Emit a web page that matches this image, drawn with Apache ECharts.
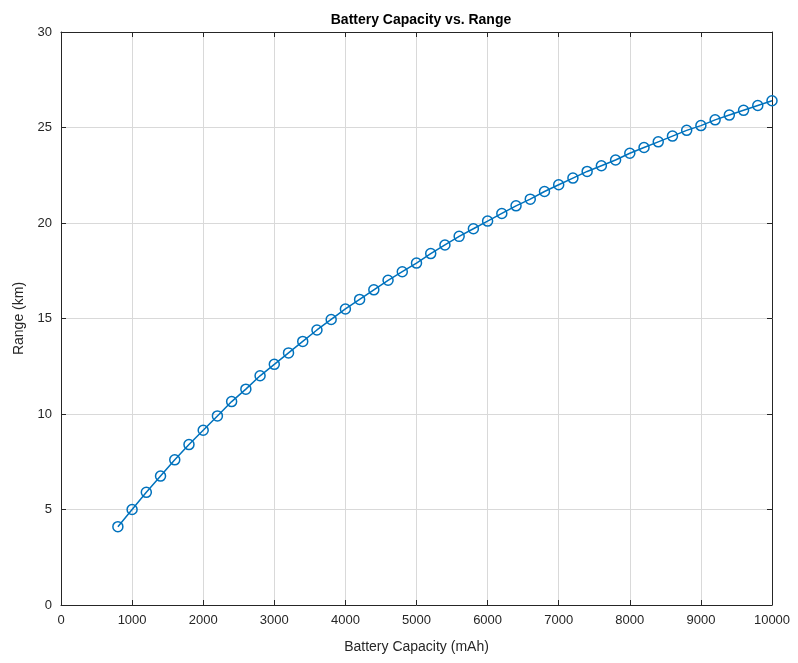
<!DOCTYPE html>
<html>
<head>
<meta charset="utf8"></meta>
<script src="https://cdn.jsdelivr.net/npm/echarts@6/dist/echarts.min.js"></script>
<style>
    html, body { margin: 0; padding: 0; background: #fff; }
    #main { width: 798px; height: 663px; }
</style>
</head>
<body>
<div id="main"></div>
<script type="text/javascript">
    // battery capacity (mAh)
    var capacity = [800, 1000, 1200, 1400, 1600, 1800, 2000, 2200, 2400, 2600,
        2800, 3000, 3200, 3400, 3600, 3800, 4000, 4200, 4400, 4600,
        4800, 5000, 5200, 5400, 5600, 5800, 6000, 6200, 6400, 6600,
        6800, 7000, 7200, 7400, 7600, 7800, 8000, 8200, 8400, 8600,
        8800, 9000, 9200, 9400, 9600, 9800, 10000];
    // range (km)
    var range = [4.1, 5.0, 5.9, 6.75, 7.6, 8.4, 9.15, 9.9, 10.65, 11.3,
        12.0, 12.6, 13.2, 13.8, 14.4, 14.95, 15.5, 16.0, 16.5, 17.0,
        17.45, 17.9, 18.4, 18.85, 19.3, 19.7, 20.1, 20.5, 20.9, 21.25,
        21.65, 22.0, 22.35, 22.7, 23.0, 23.3, 23.65, 23.95, 24.25, 24.55,
        24.85, 25.1, 25.4, 25.65, 25.9, 26.15, 26.4];

    var font = 'Liberation Sans, Arial, Helvetica, sans-serif';
    var axisCol = '#262626';

    var points = [];
    for (var i = 0; i < capacity.length; i++) {
        points.push([capacity[i], range[i]]);
    }

    function mkX(pos, labels) {
        return {
            type: 'value', position: pos, min: 0, max: 10000, interval: 1000,
            name: labels ? 'Battery Capacity (mAh)' : '',
            nameLocation: 'middle', nameGap: 35,
            nameTextStyle: { fontFamily: font, fontSize: 14, color: axisCol },
            axisLine: { show: true, onZero: false, lineStyle: { color: axisCol, width: 1 } },
            axisTick: { show: true, inside: true, length: 5, lineStyle: { color: axisCol } },
            axisLabel: { show: labels, fontFamily: font, fontSize: 13, color: axisCol, margin: 9,
                formatter: function (v) { return String(v); } },
            splitLine: { show: labels, lineStyle: { color: '#d9d9d9', width: 1 } }
        };
    }
    function mkY(pos, labels) {
        return {
            type: 'value', position: pos, min: 0, max: 30, interval: 5,
            name: labels ? 'Range (km)' : '',
            nameLocation: 'middle', nameGap: 30, nameRotate: 90,
            nameTextStyle: { fontFamily: font, fontSize: 14, color: axisCol },
            axisLine: { show: true, onZero: false, lineStyle: { color: axisCol, width: 1 } },
            axisTick: { show: true, inside: true, length: 5, lineStyle: { color: axisCol } },
            axisLabel: { show: labels, fontFamily: font, fontSize: 13, color: axisCol, margin: 9 },
            splitLine: { show: labels, lineStyle: { color: '#d9d9d9', width: 1 } }
        };
    }

    var myChart = echarts.init(document.getElementById('main'));
    var option = {
        backgroundColor: '#fff',
        animation: false,
        title: {
            text: 'Battery Capacity vs. Range',
            left: 416, top: 8, textAlign: 'center',
            textStyle: { fontFamily: font, fontSize: 14, fontWeight: 'bold', color: '#000' }
        },
        grid: { left: 61, right: 26, top: 32, bottom: 58 },
        xAxis: [mkX('bottom', true), mkX('top', false)],
        yAxis: [mkY('left', true), mkY('right', false)],
        series: [{
            type: 'line',
            data: points,
            symbol: 'circle',
            symbolSize: 10,
            showAllSymbol: true,
            lineStyle: { color: '#0072BD', width: 1.5 },
            itemStyle: { color: 'rgba(0,0,0,0)', borderColor: '#0072BD', borderWidth: 1.5 }
        }]
    };
    myChart.setOption(option);
</script>
</body>
</html>
